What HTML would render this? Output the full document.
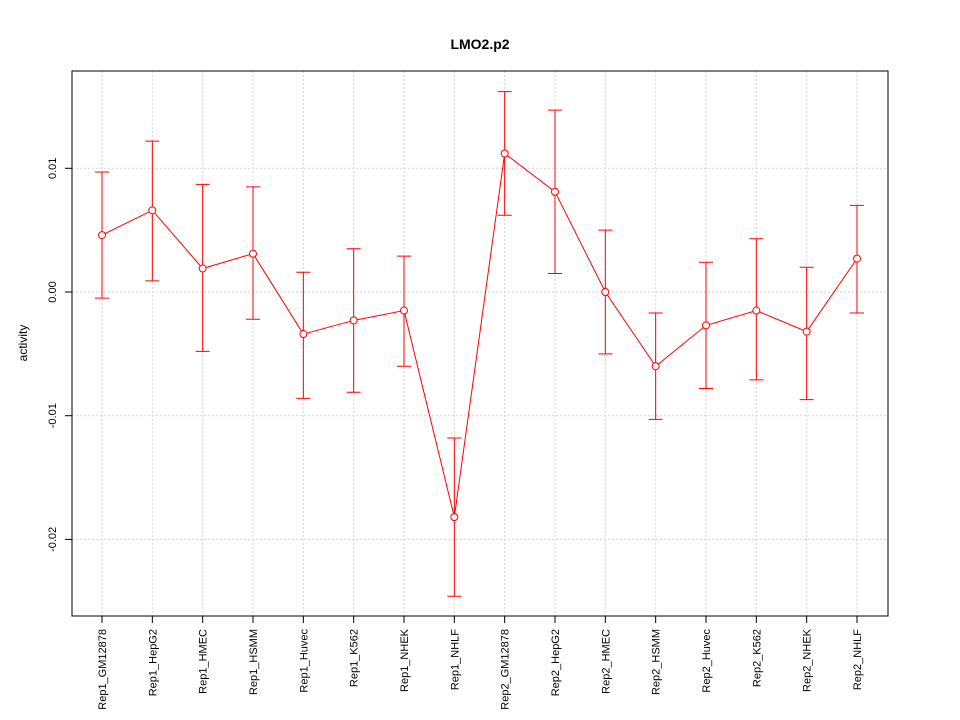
<!DOCTYPE html>
<html><head><meta charset="utf-8"><title>LMO2.p2</title>
<style>
html,body{margin:0;padding:0;background:#fff;}
svg{display:block;font-family:"Liberation Sans",Arial,sans-serif;}
</style></head>
<body>
<svg id="chart" width="960" height="720" viewBox="0 0 960 720" xmlns="http://www.w3.org/2000/svg">
<rect width="960" height="720" fill="#fff"/>
<text x="480" y="49" text-anchor="middle" font-size="14" font-weight="bold">LMO2.p2</text>
<text x="0" y="0" transform="translate(27,343) rotate(-90)" text-anchor="middle" font-size="12">activity</text>
<g id="grid"></g>
<g id="marks"></g>
<g id="axes"></g>
<rect x="72" y="71" width="816" height="545" fill="none" stroke="#000" stroke-width="1"/>
</svg>
<script>
const categories = ["Rep1_GM12878","Rep1_HepG2","Rep1_HMEC","Rep1_HSMM","Rep1_Huvec","Rep1_K562","Rep1_NHEK","Rep1_NHLF","Rep2_GM12878","Rep2_HepG2","Rep2_HMEC","Rep2_HSMM","Rep2_Huvec","Rep2_K562","Rep2_NHEK","Rep2_NHLF"];
const values = [0.0046,0.0066,0.0019,0.0031,-0.0034,-0.0023,-0.0015,-0.0182,0.0112,0.0081,0.0000,-0.0060,-0.0027,-0.0015,-0.0032,0.0027];
const upper = [0.0097,0.0122,0.0087,0.0085,0.0016,0.0035,0.0029,-0.0118,0.0162,0.0147,0.0050,-0.0017,0.0024,0.0043,0.0020,0.0070];
const lower = [-0.0005,0.0009,-0.0048,-0.0022,-0.0086,-0.0081,-0.0060,-0.0246,0.0062,0.0015,-0.0050,-0.0103,-0.0078,-0.0071,-0.0087,-0.0017];
const yTicks = [-0.02,-0.01,0.00,0.01];
const yTickLabels = ["-0.02","-0.01","0.00","0.01"];

const NS = "http://www.w3.org/2000/svg";
function xScale(i){ return 102 + i * (857 - 102) / (categories.length - 1); }
function yScale(v){ return 292 - v * 12370; }
function mk(tag, attrs, parent){
  const e = document.createElementNS(NS, tag);
  for (const k in attrs) e.setAttribute(k, attrs[k]);
  parent.appendChild(e);
  return e;
}
const grid = document.getElementById("grid");
const marks = document.getElementById("marks");
const axes = document.getElementById("axes");

categories.forEach((c, i) => {
  const x = xScale(i);
  const g = mk("line", {x1:x, x2:x, y1:71, y2:616, stroke:"#d3d3d3", "stroke-dasharray":"2,2"}, grid);
  
  
  const t = mk("line", {x1:x, x2:x, y1:616, y2:623, stroke:"#000"}, axes);
  
  
  const lb = mk("text", {x:0, y:0, transform:`translate(${x+4},629) rotate(-90)`, "text-anchor":"end", "font-size":"11"}, axes);
  lb.textContent = c;
  
  
});
yTicks.forEach((v, i) => {
  const y = yScale(v);
  const g = mk("line", {x1:72, x2:888, y1:y, y2:y, stroke:"#d3d3d3", "stroke-dasharray":"2,2"}, grid);
  
  
  const t = mk("line", {x1:65, x2:72, y1:y, y2:y, stroke:"#000"}, axes);
  
  
  const lb = mk("text", {x:0, y:0, transform:`translate(56,${y}) rotate(-90)`, "text-anchor":"middle", "font-size":"11"}, axes);
  lb.textContent = yTickLabels[i];
  
  
});

const pts = values.map((v, i) => xScale(i) + "," + yScale(v)).join(" ");
const line = mk("polyline", {points:pts, fill:"none", stroke:"#ff0000", "stroke-width":"1"}, marks);



values.forEach((v, i) => {
  const x = xScale(i), yu = yScale(upper[i]), yl = yScale(lower[i]);
  const eb = mk("path", {d:`M${x},${yu}V${yl}M${x-7},${yu}H${x+7}M${x-7},${yl}H${x+7}`, stroke:"#ff0000", fill:"none", "stroke-width":"1"}, marks);
  
  
  const p = mk("circle", {cx:x, cy:yScale(v), r:3.5, fill:"#fff", stroke:"#ff0000", "stroke-width":"1"}, marks);
  
  
});
</script>
</body></html>
